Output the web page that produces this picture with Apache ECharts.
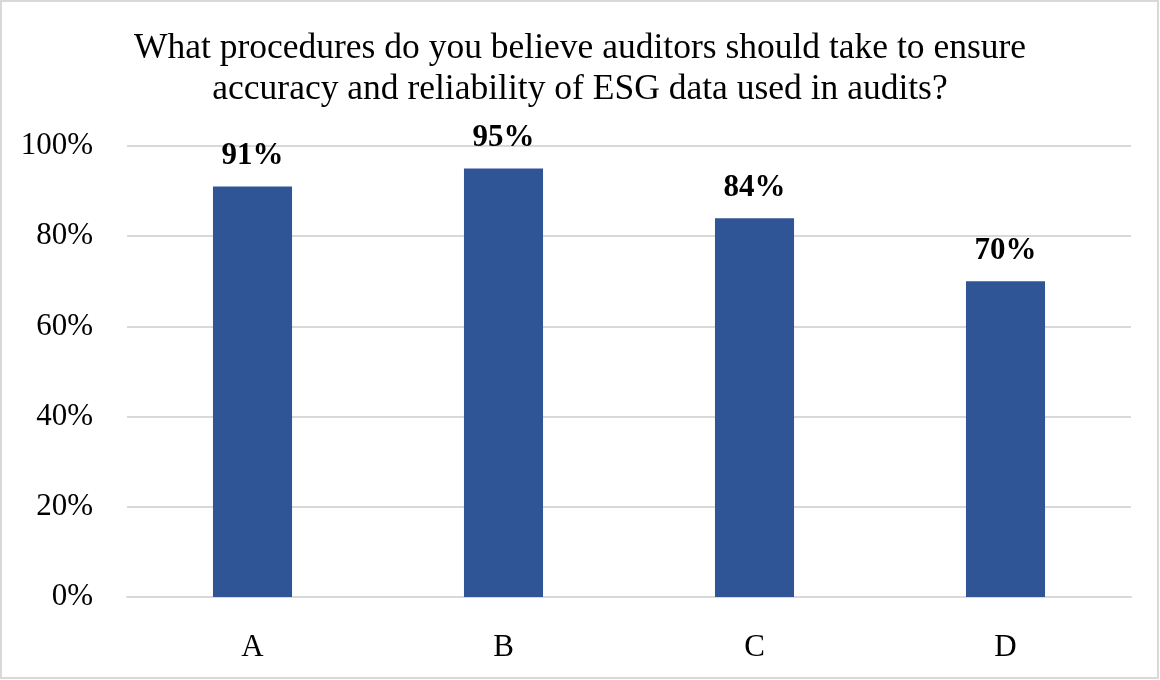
<!DOCTYPE html>
<html><head><meta charset="utf-8">
<script src="https://cdn.jsdelivr.net/npm/echarts@6/dist/echarts.min.js"></script>
<style>html,body{margin:0;padding:0;background:#fff}#c{width:1160px;height:680px}</style>
</head><body><div id="c"></div>
<script>
const categories = ['A', 'B', 'C', 'D'];
const values = [91, 95, 84, 70];
const yTicks = [0, 20, 40, 60, 80, 100];
const titleText = 'What procedures do you believe auditors should take to ensure\naccuracy and reliability of ESG data used in audits?';
const FONT = 'Liberation Serif';

const chart = echarts.init(document.getElementById('c'), null, {renderer: 'canvas'});
chart.setOption({
  animation: false,
  backgroundColor: '#fff',
  graphic: [{type: 'rect', shape: {x: 1, y: 1, width: 1157, height: 677}, style: {fill: 'none', stroke: '#d9d9d9', lineWidth: 2}}],
  title: {
    text: titleText, left: 'center', top: 23,
    textStyle: {fontFamily: FONT, fontSize: 35.5, fontWeight: 'normal', color: '#000', lineHeight: 41}
  },
  grid: {left: 127, right: 29, top: 146, bottom: 83},
  xAxis: {
    type: 'category', data: categories,
    axisLine: {show: true, lineStyle: {color: '#d9d9d9', width: 2}},
    axisTick: {show: false},
    axisLabel: {fontFamily: FONT, fontSize: 31, color: '#000', margin: 35}
  },
  yAxis: {
    type: 'value', min: 0, max: 100, interval: 20,
    axisLine: {show: false}, axisTick: {show: false},
    splitLine: {lineStyle: {color: '#d9d9d9', width: 2}},
    axisLabel: {fontFamily: FONT, fontSize: 31, color: '#000', margin: 34, padding: [6, 0, 0, 0],
      formatter: v => yTicks.includes(v) ? v + '%' : ''}
  },
  series: [{
    type: 'bar', data: values, barWidth: '31.5%',
    itemStyle: {color: '#2f5597'},
    label: {show: true, position: 'top', distance: 15, formatter: p => p.value + '%',
      fontFamily: FONT, fontSize: 31, fontWeight: 'bold', color: '#000'}
  }]
});
</script></body></html>
